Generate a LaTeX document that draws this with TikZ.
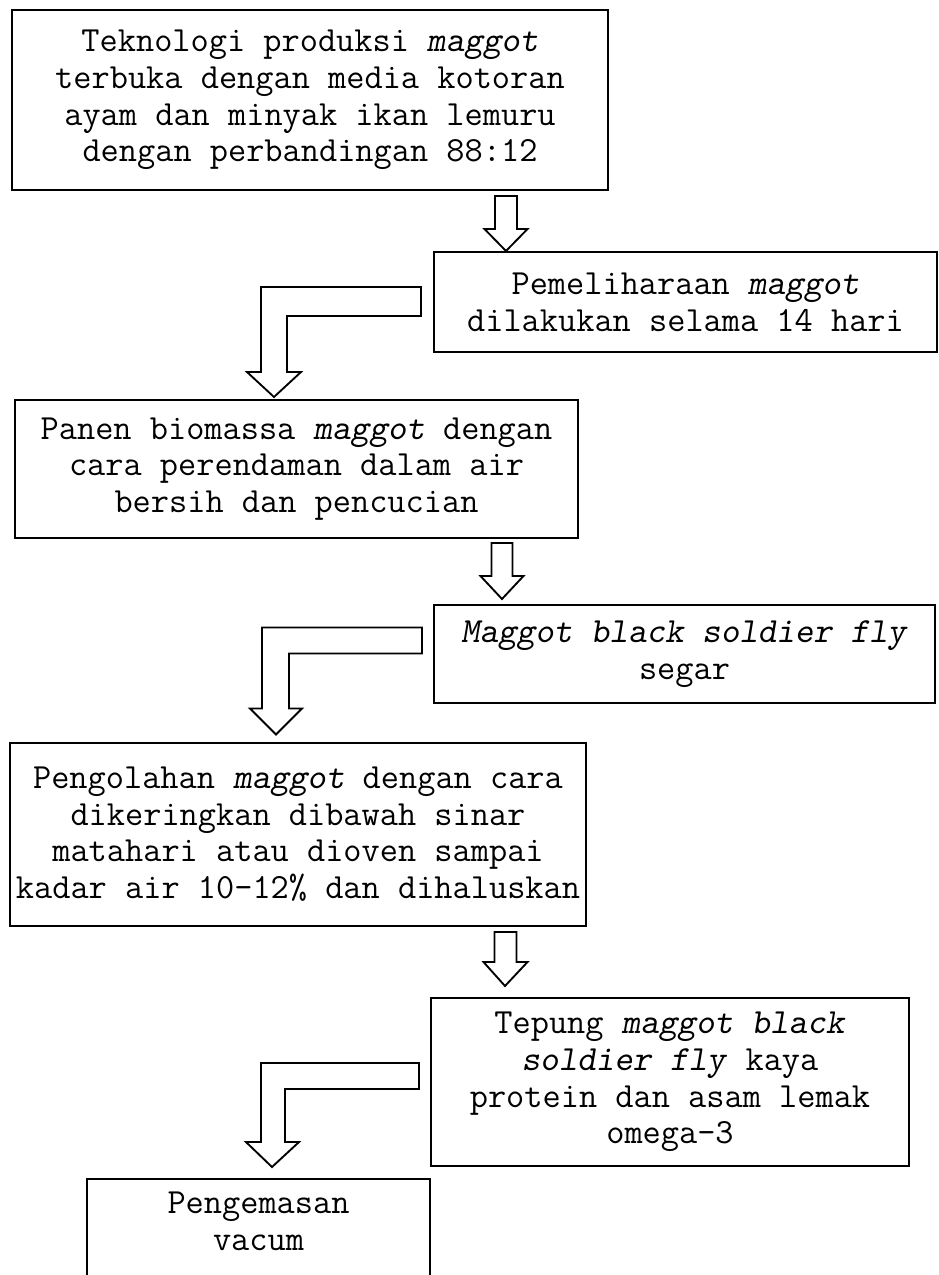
\documentclass[tikz,border=0pt]{standalone}
\usepackage{fontspec}
\usepackage{tikz}

\begin{document}
\begin{tikzpicture}[x=0.75pt,y=0.75pt,yscale=-1,xscale=1,
    procbox/.style={draw, line width=1.5pt, inner sep=0pt, align=center, font=\ttfamily\fontsize{26.5}{27.5}\selectfont},
    blockarrow/.style={draw, line width=1.4pt, line join=miter, fill=white}]
                \useasboundingbox (0,0) rectangle (939,1275);
                \clip (0,0) rectangle (939,1275);

                % Text Node
                \node[procbox, minimum width=447pt, minimum height=135pt] (b1) at (310,100) {Teknologi produksi \textsl{maggot}\\terbuka dengan media kotoran\\ayam dan minyak ikan lemuru\\dengan perbandingan 88:12};
                % Text Node
                \node[procbox, minimum width=377.25pt, minimum height=75pt] (b2) at (685.5,302) {Pemeliharaan \textsl{maggot}\\dilakukan selama 14 hari};
                % Text Node
                \node[procbox, minimum width=422.25pt, minimum height=103.5pt] (b3) at (296.5,469) {Panen biomassa \textsl{maggot} dengan\\cara perendaman dalam air\\bersih dan pencucian};
                % Text Node
                \node[procbox, minimum width=375.75pt, minimum height=73.5pt] (b4) at (684.5,654) {\textsl{Maggot black soldier fly}\\segar};
                % Text Node
                \node[procbox, minimum width=432pt, minimum height=137.25pt] (b5) at (298,834) {Pengolahan \textsl{maggot} dengan cara\\dikeringkan dibawah sinar\\matahari atau dioven sampai\\kadar air 10-12\% dan dihaluskan};
                % Text Node
                \node[procbox, minimum width=358.5pt, minimum height=126pt] (b6) at (670,1082) {Tepung \textsl{maggot black}\\\textsl{soldier fly} kaya\\protein dan asam lemak\\omega-3};
                % Text Node
                \node[procbox, anchor=north, minimum width=257.25pt, inner ysep=10pt] (b7) at (258.5,1178) {Pengemasan\\vacum\\ \strut};

                %Shape: Down Arrow [b1 to b2]
                \draw[blockarrow] (b2.north west) ++(73,0) -- ++(21.5,-22) -- ++(-10.5,0) -- ++(0,-33) -- ++(-22,0) -- ++(0,33) -- ++(-10.5,0) -- cycle ;
                %Shape: Bent Arrow [b2 to b3]
                \draw[blockarrow] (b3.north west) ++(260,-2) -- ++(27,-25) -- ++(-14,0) -- ++(0,-56) -- ++(134,0) -- ++(0,-29) -- ++(-160,0) -- ++(0,85) -- ++(-14,0) -- cycle ;
                %Shape: Down Arrow [b3 to b4]
                \draw[blockarrow] (b4.north west) ++(69,-5) -- ++(21.5,-23) -- ++(-11,0) -- ++(0,-33) -- ++(-21,0) -- ++(0,33) -- ++(-11,0) -- cycle ;
                %Shape: Bent Arrow [b4 to b5]
                \draw[blockarrow] (b5.north west) ++(267,-7) -- ++(26,-26) -- ++(-13,0) -- ++(0,-55) -- ++(133,0) -- ++(0,-26) -- ++(-160,0) -- ++(0,81) -- ++(-12,0) -- cycle ;
                %Shape: Down Arrow [b5 to b6]
                \draw[blockarrow] (b6.north west) ++(75,-11) -- ++(22.5,-24) -- ++(-11,0) -- ++(0,-30) -- ++(-22,0) -- ++(0,30) -- ++(-11,0) -- cycle ;
                %Shape: Bent Arrow [b6 to b7]
                \draw[blockarrow] (b7.north west) ++(186,-11) -- ++(27,-25) -- ++(-14,0) -- ++(0,-53) -- ++(134,0) -- ++(0,-26) -- ++(-158,0) -- ++(0,79) -- ++(-15,0) -- cycle ;

\end{tikzpicture}
\end{document}
